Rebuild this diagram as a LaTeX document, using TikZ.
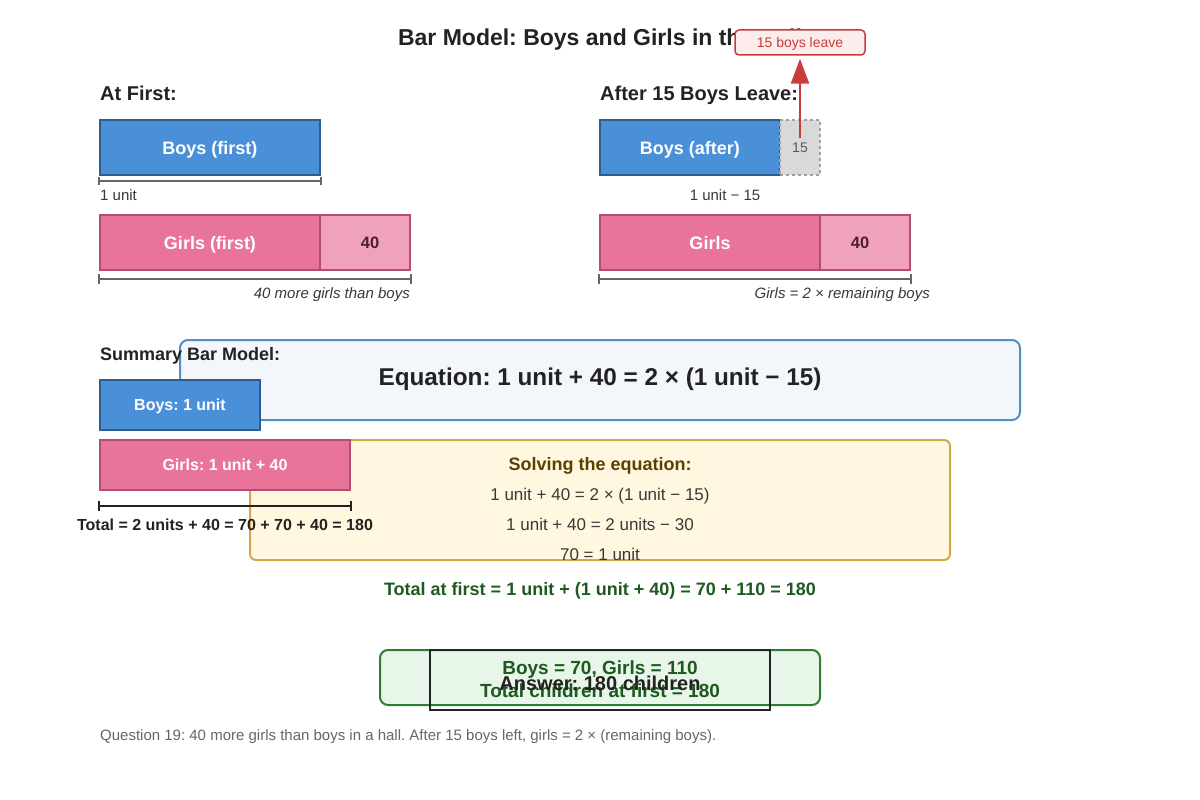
\documentclass[tikz,border=0pt]{standalone}
\usepackage{fontspec}
\setmainfont{Liberation Sans}
\usetikzlibrary{arrows.meta}
\frenchspacing
\newcommand\fsz[1]{\fontsize{#1pt}{#1pt}\selectfont}
\definecolor{bluefill}{HTML}{4A90D9}
\definecolor{blueline}{HTML}{2E5E8E}
\definecolor{pinkfill}{HTML}{E8749A}
\definecolor{pinkline}{HTML}{B24E72}
\definecolor{pinklight}{HTML}{F0A2BB}
\definecolor{maroon}{HTML}{4E1E30}
\definecolor{redc}{HTML}{C83C3C}
\definecolor{redfill}{HTML}{FDECEC}
\definecolor{greyfill}{HTML}{D9D9D9}
\definecolor{greyline}{HTML}{A0A0A0}
\definecolor{eqfill}{HTML}{F3F7FC}
\definecolor{eqline}{HTML}{4F8EC6}
\definecolor{solfill}{HTML}{FFF7E0}
\definecolor{solline}{HTML}{D4AA48}
\definecolor{soltext}{HTML}{5C4000}
\definecolor{greentext}{HTML}{1E5A20}
\definecolor{ansfill}{HTML}{E8F5E9}
\definecolor{ansline}{HTML}{2E7D32}
\definecolor{ink}{HTML}{222222}
\begin{document}
\begin{tikzpicture}[x=1pt,y=-1pt,
  every node/.append style={text depth=0pt},
  bar/.style={draw, line width=2pt, inner sep=0pt, text=white, font=\fsz{18}\bfseries},
  bluebar/.style={bar, fill=bluefill, draw=blueline},
  pinkbar/.style={bar, fill=pinkfill, draw=pinkline},
  extrabar/.style={bar, fill=pinklight, draw=pinkline, text=maroon, font=\fsz{16.5}\bfseries},
  header/.style={anchor=west, font=\fsz{20}\bfseries, text=ink, inner sep=0pt},
  note/.style={font=\fsz{15}, text=ink!90, inner sep=0pt},
  bracket/.style={draw=black!60, line width=1.5pt},
  solline/.style={font=\fsz{17}, text=ink!90, inner sep=0pt}
]
\useasboundingbox (0,0) rectangle (1200,800);
% title
\node[font=\fsz{23}\bfseries, text=ink, inner sep=0pt] (title) at (600,37) {Bar Model: Boys and Girls in the Hall};
% headers
\node[header] (h1) at (100,93) {At First:};
\node[header] (h2) at (600,93) {After 15 Boys Leave:};
% at first
\node[bluebar, minimum width=220, minimum height=55] (bf) at (210,147.5) {Boys (first)};
\draw[bracket] ([yshift=-5]bf.south west) -- ([yshift=-5]bf.south east);
\draw[bracket] ([yshift=-1]bf.south west) -- ([yshift=-9]bf.south west);
\draw[bracket] ([yshift=-1]bf.south east) -- ([yshift=-9]bf.south east);
\node[note, anchor=west] (unit1) at (100,195) {1 unit};
\node[pinkbar, minimum width=220, minimum height=55] (gf) at (210,242.5) {Girls (first)};
\node[extrabar, minimum width=90, minimum height=55] (gf40) at (365,242.5) {\hspace*{10pt}40};
\draw[bracket] ([yshift=-8]gf.south west) -- ([yshift=-8]gf40.south east);
\draw[bracket] ([yshift=-3]gf.south west) -- ([yshift=-13]gf.south west);
\draw[bracket] ([yshift=-3]gf40.south east) -- ([yshift=-13]gf40.south east);
\node[note, anchor=east, font=\fsz{15}\itshape] (more) at (410,293) {40 more girls than boys};
% after
\node[bluebar, minimum width=180, minimum height=55] (ba) at (690,147.5) {Boys (after)};
\node[draw=greyline, fill=greyfill, dashed, line width=1.5pt, inner sep=0pt, minimum width=40, minimum height=55, font=\fsz{14}, text=black!65] (b15) at (800,147.5) {15};
\node[note, anchor=center] (unit2) at (725,195) {1 unit − 15};
\node[pinkbar, minimum width=220, minimum height=55] (ga) at (710,242.5) {Girls};
\node[extrabar, minimum width=90, minimum height=55] (ga40) at (865,242.5) {40\hspace*{10pt}};
\draw[bracket] ([yshift=-8]ga.south west) -- ([yshift=-8]ga40.south east);
\draw[bracket] ([yshift=-3]ga.south west) -- ([yshift=-13]ga.south west);
\draw[bracket] ([yshift=-3]ga40.south east) -- ([yshift=-13]ga40.south east);
\node[note, anchor=east, font=\fsz{15}\itshape] (twice) at (930,293) {Girls = 2 × remaining boys};
% leave label and arrow
\node[draw=redc, fill=redfill, rounded corners=4pt, line width=1.5pt, minimum width=130, minimum height=25, inner sep=0pt, font=\fsz{14}, text=redc] (leave) at (800,42.5) {15 boys leave};
\draw[draw=redc, line width=2.5pt, -{Triangle[length=25pt,width=18pt]}, shorten >=3pt] ([yshift=10]b15.center) -- (leave.south);
% summary
\node[draw=eqline, fill=eqfill, rounded corners=8pt, line width=2pt, minimum width=840, minimum height=80, inner sep=0pt] (eqbox) at (600,380) {};
\node[font=\fsz{24.3}\bfseries, text=ink, inner sep=0pt] (eq) at (600,377) {Equation: 1 unit + 40 = 2 × (1 unit − 15)};
\node[draw=solline, fill=solfill, rounded corners=6pt, line width=2pt, minimum width=700, minimum height=120, inner sep=0pt] (solbox) at (600,500) {};
\node[font=\fsz{18}\bfseries, text=soltext, inner sep=0pt] (solt) at (600,464) {Solving the equation:};
\node[solline] (s1) at (600,494) {1 unit + 40 = 2 × (1 unit − 15)};
\node[solline] (s2) at (600,524) {1 unit + 40 = 2 units − 30};
\node[solline] (s3) at (600,554) {70 = 1 unit};
\node[header, font=\fsz{18}\bfseries] (h3) at (100,354) {Summary Bar Model:};
\node[bluebar, minimum width=160, minimum height=50, font=\fsz{16}\bfseries] (bs) at (180,405) {Boys: 1 unit};
\node[pinkbar, minimum width=250, minimum height=50, font=\fsz{16}\bfseries] (gs) at (225,465) {Girls: 1 unit + 40};
\draw[draw=ink, line width=2pt] ([yshift=-15]gs.south west) -- ([yshift=-15]gs.south east);
\draw[draw=ink, line width=1.5pt] ([yshift=-10]gs.south west) -- ([yshift=-20]gs.south west);
\draw[draw=ink, line width=1.5pt] ([yshift=-10]gs.south east) -- ([yshift=-20]gs.south east);
\node[font=\fsz{16}\bfseries, text=ink, inner sep=0pt] (tot) at (225,525) {Total = 2 units + 40 = 70 + 70 + 40 = 180};
\node[font=\fsz{18}\bfseries, text=greentext, inner sep=0pt] (totf) at (600,589) {Total at first = 1 unit + (1 unit + 40) = 70 + 110 = 180};
% answer
\node[draw=ansline, fill=ansfill, rounded corners=8pt, line width=2pt, minimum width=440, minimum height=55, inner sep=0pt] (ans) at (600,677.5) {};
\node[draw=ink, line width=2pt, minimum width=340, minimum height=60, inner sep=0pt] (ansin) at (600,680) {};
\node[font=\fsz{19}\bfseries, text=greentext, inner sep=0pt] (a1) at (600,668) {Boys = 70, Girls = 110};
\node[font=\fsz{19}\bfseries, text=greentext, inner sep=0pt] (a2) at (600,691) {Total children at first = 180};
\node[font=\fsz{20}\bfseries, text=ink, inner sep=0pt] (a3) at (600,683) {Answer: 180 children};
% footer
\node[anchor=west, font=\fsz{15}, text=black!60, inner sep=0pt] (foot) at (100,735) {Question 19: 40 more girls than boys in a hall. After 15 boys left, girls = 2 × (remaining boys).};
\end{tikzpicture}
\end{document}
